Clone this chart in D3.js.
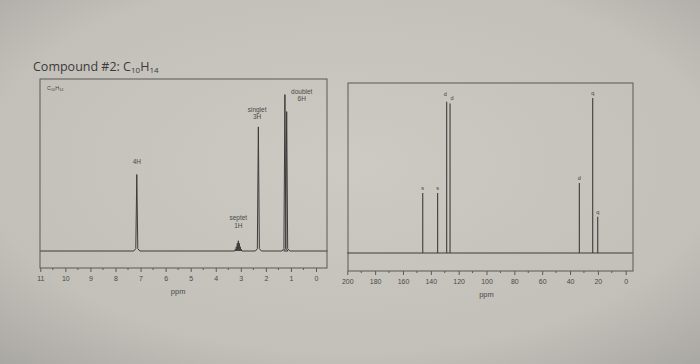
<!DOCTYPE html>
<html>
<meta charset="utf-8">
<head>
<script src="https://d3js.org/d3.v7.min.js"></script>
<title>Compound #2</title>
<style>
html, body {
	margin: 0;
	padding: 0;
	background: #c4c1bb;
}
svg {
	display: block;
	font-family: 'Liberation Sans', 'Arial', sans-serif;
}
</style>
</head>
<body>
<svg width="700" height="364"></svg>
<script>
// 1H spectrum: peak positions (ppm) and heights (% of full scale)
var hPeaks = [
	{ppm: 7.15, h: 45},
	{ppm: 2.30, h: 73},
	{ppm: 1.24, h: 92},
	{ppm: 1.17, h: 82}
];
// the septet near 3.1 ppm, read as seven small lines
var septetPpm = [3.22, 3.18, 3.14, 3.10, 3.06, 3.02, 2.98];
var septetH = [1, 2.5, 4.5, 6, 4.5, 2.5, 1];
var hLabels = [
	{ppm: 7.15, h: 51, lines: ["4H"]},
	{ppm: 2.35, h: 82, lines: ["singlet", "3H"]},
	{ppm: 0.57, h: 92.4, lines: ["doublet", "6H"]},
	{ppm: 3.1, h: 18, lines: ["septet", "1H"]}
];
var hTicks = [11, 10, 9, 8, 7, 6, 5, 4, 3, 2, 1, 0];

// 13C spectrum
var cPpm = [145.8, 135.1, 128.6, 126.2, 33.3, 23.7, 20.1];
var cH = [35.7, 35.7, 90, 89, 41.7, 92.3, 21.6];
var cMult = ["s", "s", "d", "d", "d", "q", "q"];
var cTicks = [200, 180, 160, 140, 120, 100, 80, 60, 40, 20, 0];

var svg = d3.select("svg");
var ink = "#3d3c3a";

// paper background, darker towards the edges like the photo
var defs = svg.append("defs");
var grad = defs.append("radialGradient").attr("id", "paper")
	.attr("cx", "50%").attr("cy", "45%").attr("r", "75%");
grad.append("stop").attr("offset", "0%").attr("stop-color", "#cdcac4");
grad.append("stop").attr("offset", "70%").attr("stop-color", "#c3c0ba");
grad.append("stop").attr("offset", "100%").attr("stop-color", "#a9a7a2");
svg.append("rect").attr("width", 700).attr("height", 364).attr("fill", "url(#paper)");

// title
var title = svg.append("text")
	.attr("x", 33).attr("y", 71)
	.attr("font-family", "'Open Sans', sans-serif")
	.attr("font-size", 12.5)
	.attr("fill", "#3a3a3a");
title.append("tspan").text("Compound #2:  C");
title.append("tspan").attr("font-size", 8).attr("dy", 2).text("10");
title.append("tspan").attr("dy", -2).text("H");
title.append("tspan").attr("font-size", 8).attr("dy", 2).text("14");

function panel(o) {
	var g = svg.append("g");
	var x = d3.scaleLinear().domain(o.xDomain).range(o.xRange);
	var y = d3.scaleLinear().domain([0, 100]).range([o.base, o.top100]);

	// frame
	g.append("rect")
		.attr("x", o.box[0]).attr("y", o.box[1])
		.attr("width", o.box[2] - o.box[0]).attr("height", o.box[3] - o.box[1])
		.attr("fill", "none").attr("stroke", "#5a5956").attr("stroke-width", 1);

	// axis under the frame
	var axis = d3.axisBottom(x)
		.tickValues(o.ticks)
		.tickSize(4)
		.tickFormat(d3.format("d"));
	var ag = g.append("g").attr("transform", "translate(0," + o.box[3] + ")").call(axis);
	ag.select(".domain").remove();
	ag.selectAll("line").attr("stroke", "#5a5956");
	ag.selectAll("text").attr("font-size", 7).attr("fill", "#4a4946").attr("dy", "0.85em");
	g.append("g").selectAll("line").data(o.minor).join("line")
		.attr("x1", function(d) { return x(d); }).attr("x2", function(d) { return x(d); })
		.attr("y1", o.box[3]).attr("y2", o.box[3] + 2)
		.attr("stroke", "#5a5956");

	g.append("text")
		.attr("x", x(o.unitAt)).attr("y", o.box[3] + 26)
		.attr("text-anchor", "middle")
		.attr("font-size", 7.5).attr("fill", "#4a4946")
		.text("ppm");

	return {g: g, x: x, y: y};
}

// ---------- 1H panel ----------
var hMinor = d3.range(0, 11, 0.5).filter(function(d) { return d % 1 !== 0; });
var left = panel({
	xDomain: [11, 0], xRange: [40.3, 316],
	base: 251, top100: 81,
	box: [40, 79, 327, 268],
	ticks: hTicks, minor: hMinor, unitAt: 5.5
});

// spectrum trace: baseline plus each peak with a slight foot
var hAll = hPeaks.slice();
septetPpm.forEach(function(p, i) { hAll.push({ppm: p, h: septetH[i]}); });
hAll.sort(function(a, b) { return b.ppm - a.ppm; });
var trace = [[11, 0]];
hAll.forEach(function(p) {
	var w = p.h > 10 ? 0.12 : 0.02;
	trace.push([p.ppm + w, 0]);
	if (p.h > 10) trace.push([p.ppm + 0.04, 1.4]);
	trace.push([p.ppm, p.h]);
	if (p.h > 10) trace.push([p.ppm - 0.04, 1.4]);
	trace.push([p.ppm - w, 0]);
});
trace.push([-0.45, 0]);
left.g.append("path")
	.datum(trace)
	.attr("fill", "none").attr("stroke", ink).attr("stroke-width", 1)
	.attr("d", d3.line()
		.x(function(d) { return left.x(d[0]); })
		.y(function(d) { return left.y(d[1]); }));

left.g.append("g").selectAll("text").data(hLabels).join("text")
	.attr("x", function(d) { return left.x(d.ppm); })
	.attr("y", function(d) { return left.y(d.h); })
	.attr("text-anchor", "middle")
	.attr("font-size", 6.5).attr("fill", "#4a4946")
	.selectAll("tspan").data(function(d) { return d.lines; }).join("tspan")
		.attr("x", function() { return d3.select(this.parentNode).attr("x"); })
		.attr("dy", function(d, i) { return i ? 7.5 : 0; })
		.text(function(d) { return d; });

var corner = left.g.append("text").attr("x", 47).attr("y", 90)
	.attr("font-size", 5.5).attr("fill", "#4a4946");
corner.append("tspan").text("C");
corner.append("tspan").attr("font-size", 3.8).attr("dy", 1).text("10");
corner.append("tspan").attr("dy", -1).text("H");
corner.append("tspan").attr("font-size", 3.8).attr("dy", 1).text("14");

// ---------- 13C panel ----------
var cMinor = d3.range(10, 200, 20);
var right = panel({
	xDomain: [200, 0], xRange: [347.3, 625.7],
	base: 253, top100: 85,
	box: [348, 83, 633, 271],
	ticks: cTicks, minor: cMinor, unitAt: 100
});

right.g.append("line")
	.attr("x1", right.x(200)).attr("x2", right.x(-5))
	.attr("y1", right.y(0)).attr("y2", right.y(0))
	.attr("stroke", ink).attr("stroke-width", 1);

var cData = cPpm.map(function(p, i) { return {ppm: p, h: cH[i], m: cMult[i]}; });
right.g.append("g").selectAll("line").data(cData).join("line")
	.attr("x1", function(d) { return right.x(d.ppm); })
	.attr("x2", function(d) { return right.x(d.ppm); })
	.attr("y1", right.y(0))
	.attr("y2", function(d) { return right.y(d.h); })
	.attr("stroke", ink).attr("stroke-width", 1.1);

right.g.append("g").selectAll("text").data(cData).join("text")
	.attr("x", function(d, i) { return right.x(d.ppm) + (i === 2 ? -1.5 : i === 3 ? 2 : 0); })
	.attr("y", function(d, i) { return right.y(d.h) - (i === 2 ? 6 : 3); })
	.attr("text-anchor", "middle")
	.attr("font-size", 5.5).attr("fill", "#3d3c3a")
	.text(function(d) { return d.m; });
</script>
</body>
</html>
